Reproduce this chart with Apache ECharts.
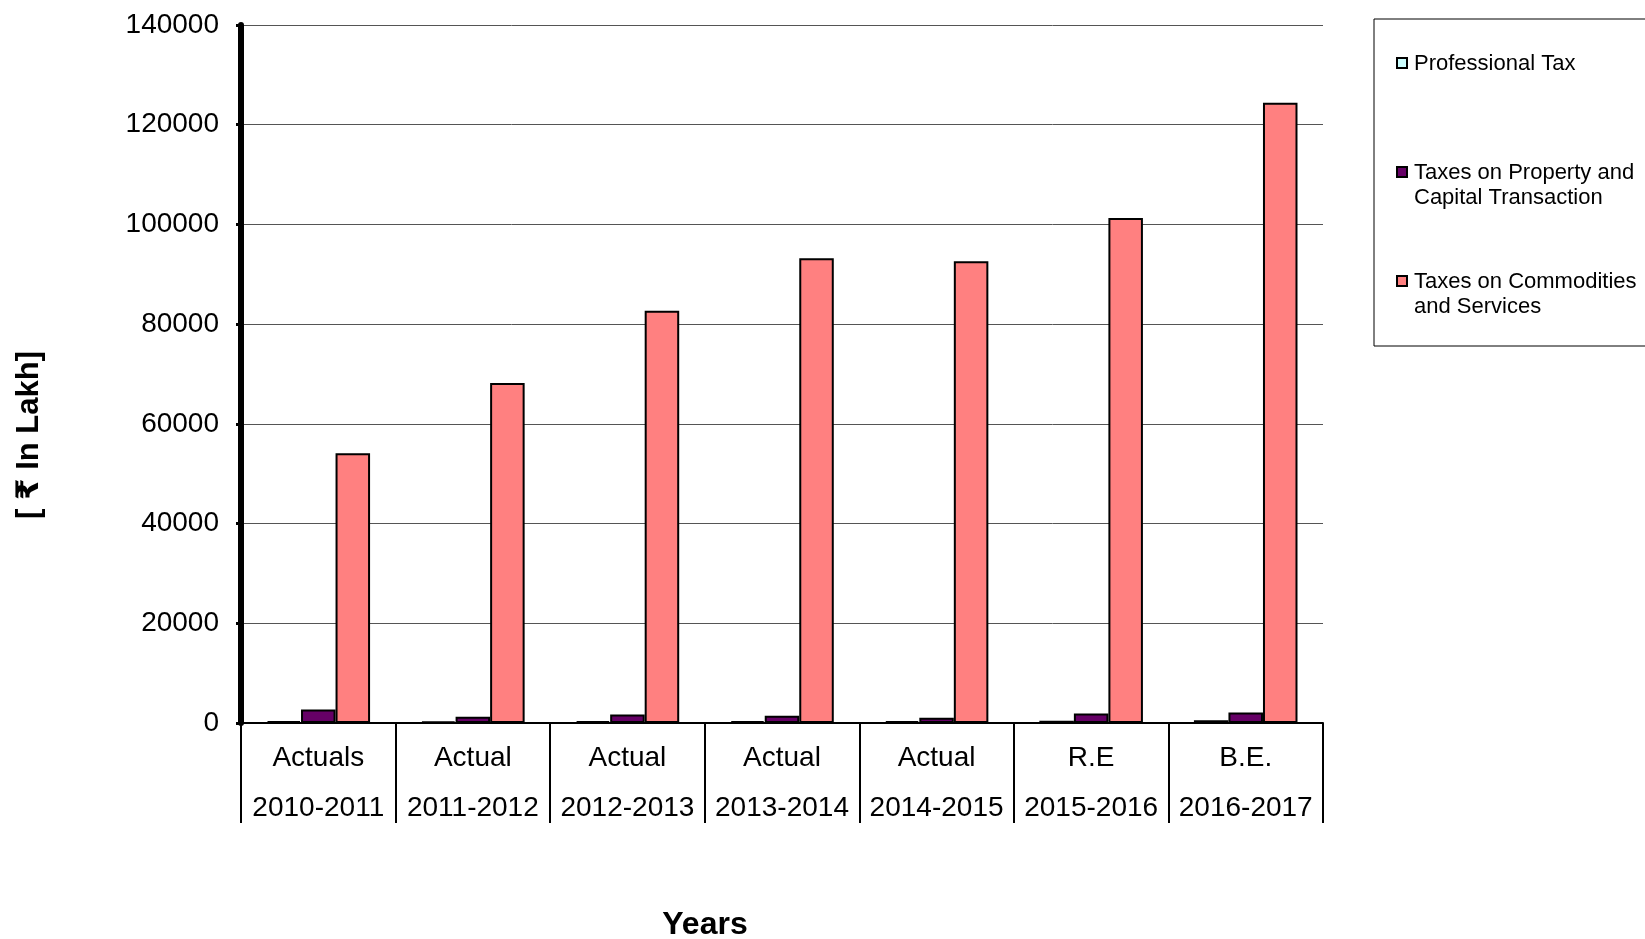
<!DOCTYPE html>
<html>
<head>
<meta charset="utf-8">
<script src="https://cdn.jsdelivr.net/npm/echarts@6/dist/echarts.min.js"></script>
<style>
html,body{margin:0;padding:0;background:#fff;}
#c{width:1645px;height:939px;}
</style>
</head>
<body>
<div id="c"></div>
<script>
var periodTypes = ['Actuals', 'Actual', 'Actual', 'Actual', 'Actual', 'R.E', 'B.E.'];
var years = ['2010-2011', '2011-2012', '2012-2013', '2013-2014', '2014-2015', '2015-2016', '2016-2017'];
var seriesNames = ['Professional Tax', 'Taxes on Property and Capital Transaction', 'Taxes on Commodities and Services'];
var legendLabels = ['Professional Tax', 'Taxes on Property and\nCapital Transaction', 'Taxes on Commodities\nand Services'];
var professionalTax = [400, 350, 380, 400, 400, 450, 550];
var propertyTax = [2700, 1250, 1700, 1450, 1050, 1900, 2100];
var commoditiesTax = [54100, 68200, 82700, 93200, 92600, 101300, 124400];
var yTicks = [0, 20000, 40000, 60000, 80000, 100000, 120000, 140000];
var colors = ['#CCFFFF', '#660066', '#FF8080'];

var FONT = '"Liberation Sans", Arial, "DejaVu Sans", sans-serif';
var categories = periodTypes.map(function (p, i) { return p + '\n' + years[i]; });

var chart = echarts.init(document.getElementById('c'), null, { renderer: 'canvas' });

var legendGraphics = [{
  type: 'rect',
  shape: { x: 1374, y: 19, width: 320, height: 327 },
  style: { fill: '#fff', stroke: '#000', lineWidth: 1 }
}];
var legendTops = [63, 172, 281];
seriesNames.forEach(function (n, i) {
  legendGraphics.push({
    type: 'rect',
    shape: { x: 1397, y: legendTops[i] - 5, width: 10, height: 10 },
    style: { fill: colors[i], stroke: '#000', lineWidth: 2 }
  });
  legendGraphics.push({
    type: 'text',
    x: 1414, y: legendTops[i] - 12,
    style: { text: legendLabels[i], font: '22px ' + FONT, fill: '#000', lineHeight: 25, textVerticalAlign: 'top' }
  });
});
legendGraphics.push({
  type: 'text',
  x: 29, y: 435, rotation: Math.PI / 2,
  style: { text: '[ \u20B9 In Lakh]', font: 'bold 31px ' + FONT, fill: '#000', align: 'center', verticalAlign: 'middle' }
});
legendGraphics.push({
  type: 'text',
  x: 705, y: 925,
  style: { text: 'Years', font: 'bold 32px ' + FONT, fill: '#000', align: 'center', verticalAlign: 'middle' }
});

var data = [professionalTax, propertyTax, commoditiesTax];

chart.setOption({
  animation: false,
  backgroundColor: '#fff',
  grid: { left: 241, right: 322, top: 25, bottom: 216, containLabel: false },
  xAxis: {
    type: 'category',
    data: categories,
    boundaryGap: true,
    axisLine: { show: true, lineStyle: { color: '#000', width: 2 } },
    axisTick: { show: true, interval: 0, length: 100, lineStyle: { color: '#000', width: 2 } },
    axisLabel: { interval: 0, margin: 10, fontSize: 28, fontFamily: FONT, color: '#000', lineHeight: 50 },
    splitLine: { show: false }
  },
  yAxis: {
    type: 'value',
    min: yTicks[0],
    max: yTicks[yTicks.length - 1],
    interval: yTicks[1] - yTicks[0],
    axisLine: { show: true, lineStyle: { color: '#000', width: 6 } },
    axisTick: { show: true, length: 5, lineStyle: { color: '#000', width: 3 } },
    axisLabel: { margin: 22, fontSize: 28, fontFamily: FONT, color: '#000', formatter: function (v) { return String(v); } },
    splitLine: { show: true, lineStyle: { color: '#555', width: 1 } }
  },
  series: seriesNames.map(function (n, i) {
    return {
      name: n,
      type: 'bar',
      data: data[i],
      barGap: '0%',
      barCategoryGap: '33%',
      itemStyle: { color: colors[i], borderColor: '#000', borderWidth: 2 }
    };
  }),
  graphic: legendGraphics
});
</script>
</body>
</html>
